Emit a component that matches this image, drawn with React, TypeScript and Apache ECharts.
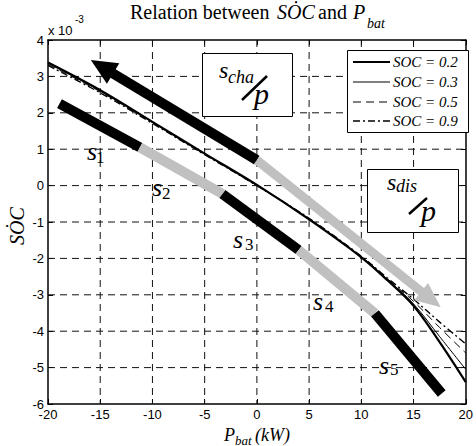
import React, { useEffect, useRef } from "react";
import * as echarts from "echarts";

// ---- data (SOC-dot in units of 1e-3, P_bat in kW) ----
const P = [-20, -15, -10, -5, 0, 5, 10, 12.5, 15, 17.5, 20];
const soc02 = [3.38, 2.62, 1.75, 0.88, 0.02, -0.93, -1.97, -2.6, -3.3, -4.3, -5.4];
const soc03 = [3.36, 2.6, 1.74, 0.87, 0.01, -0.92, -1.96, -2.58, -3.25, -4.15, -5.05];
const soc05 = [3.33, 2.58, 1.73, 0.86, 0.0, -0.91, -1.95, -2.56, -3.18, -3.9, -4.6];
const soc09 = [3.3, 2.55, 1.71, 0.85, 0.0, -0.9, -1.94, -2.54, -3.12, -3.75, -4.35];
const seriesNames = ["SOC = 0.2", "SOC = 0.3", "SOC = 0.5", "SOC = 0.9"];

// breakpoints of the thick s1..s5 band
const sBreaks = [
  [-18.9, 2.25],
  [-11.2, 1.05],
  [-3.3, -0.23],
  [4.0, -1.77],
  [11.3, -3.51],
  [17.7, -5.71],
];
// arrows: [x0, y0, x1(tip), y1(tip)]
const chargeArrow = [0, 0.7, -15.9, 3.45];
const dischargeArrow = [0, 0.7, 17.6, -3.34];

const xTicks = { min: -20, max: 20, interval: 5 };
const yTicks = { min: -6, max: 4, interval: 1 };
const xGrid = [-15, -10, -5, 0, 5, 10, 15];
const yGrid = [-5, -4, -3, -2, -1, 0, 1, 2, 3];

const GRAY = "#c0c0c0";
const SERIF = '"Liberation Serif", "Times New Roman", serif';
const SANS = '"Liberation Sans", Arial, sans-serif';

const lineStyles = [
  { width: 2.2, dash: null as number[] | null },
  { width: 1, dash: null as number[] | null },
  { width: 1, dash: [8, 5] },
  { width: 1.4, dash: [7, 3, 2, 3] },
];

function arrowRenderer(color: string, width: number, headLen: number, headHalf: number) {
  return (params: any, api: any) => {
    const a = api.coord([api.value(0), api.value(1)]);
    const b = api.coord([api.value(2), api.value(3)]);
    const dx = b[0] - a[0];
    const dy = b[1] - a[1];
    const L = Math.hypot(dx, dy);
    const ux = dx / L;
    const uy = dy / L;
    const nx = -uy;
    const ny = ux;
    const bx = b[0] - ux * headLen;
    const by = b[1] - uy * headLen;
    return {
      type: "group",
      children: [
        {
          type: "line",
          shape: { x1: a[0], y1: a[1], x2: bx + ux * 2, y2: by + uy * 2 },
          style: { stroke: color, lineWidth: width, lineCap: "butt" },
        },
        {
          type: "polygon",
          shape: {
            points: [
              [b[0], b[1]],
              [bx + nx * headHalf, by + ny * headHalf],
              [bx - nx * headHalf, by - ny * headHalf],
            ],
          },
          style: { fill: color },
        },
      ],
    };
  };
}

function txt(text: string, x: number, y: number, font: string, extra: any = {}) {
  return {
    type: "text",
    x,
    y,
    z: 100,
    silent: true,
    ...extra,
    style: {
      text,
      font,
      fill: "#000",
      textAlign: "left",
      textVerticalAlign: "middle",
      ...(extra.style || {}),
    },
  };
}

export default function App() {
  const ref = useRef<HTMLDivElement>(null);

  useEffect(() => {
    document.body.style.margin = "0";
    if (!ref.current) return;
    const chart = echarts.init(ref.current, undefined, { renderer: "svg" });

    const mk = (vals: number[]) => P.map((p, i) => [p, vals[i]]);
    const allVals = [soc02, soc03, soc05, soc09];

    const socSeries = allVals.map((vals, i) => ({
      type: "line",
      name: seriesNames[i],
      data: mk(vals),
      symbol: "none",
      smooth: 0.35,
      silent: true,
      z: 3,
      lineStyle: {
        color: "#000",
        width: lineStyles[i].width,
        type: lineStyles[i].dash ? lineStyles[i].dash : "solid",
      },
    }));

    const bandSeries = sBreaks.slice(0, -1).map((pt, i) => ({
      type: "line",
      data: [pt, sBreaks[i + 1]],
      symbol: "none",
      silent: true,
      z: 4,
      lineStyle: { color: i % 2 === 0 ? "#000" : GRAY, width: 10, cap: "butt" },
    }));

    const arrowSeries = [
      {
        type: "custom",
        data: [chargeArrow],
        encode: { x: [0, 2], y: [1, 3] },
        renderItem: arrowRenderer("#000", 10, 26, 12),
        clip: false,
        silent: true,
        z: 5,
      },
      {
        type: "custom",
        data: [dischargeArrow],
        encode: { x: [0, 2], y: [1, 3] },
        renderItem: arrowRenderer(GRAY, 9, 25, 11),
        clip: false,
        silent: true,
        z: 5,
      },
    ];

    const gridStyle = { stroke: "#111", lineWidth: 1, lineDash: [7, 5] };
    const gridSeries = [
      {
        type: "custom",
        data: xGrid.map((v) => [v, 0]),
        encode: { x: 0, y: 1 },
        silent: true,
        z: 1,
        renderItem: (params: any, api: any) => {
          const t = api.coord([api.value(0), yTicks.max]);
          const b = api.coord([api.value(0), yTicks.min]);
          return { type: "line", shape: { x1: t[0], y1: t[1], x2: b[0], y2: b[1] }, style: gridStyle };
        },
      },
      {
        type: "custom",
        data: yGrid.map((v) => [0, v]),
        encode: { x: 0, y: 1 },
        silent: true,
        z: 1,
        renderItem: (params: any, api: any) => {
          const l = api.coord([xTicks.min, api.value(1)]);
          const r = api.coord([xTicks.max, api.value(1)]);
          return { type: "line", shape: { x1: l[0], y1: l[1], x2: r[0], y2: r[1] }, style: gridStyle };
        },
      },
    ];

    const axisCommon = {
      axisLine: { show: true, onZero: false, lineStyle: { color: "#000", width: 1.5 } },
      axisTick: { show: true, inside: true, length: 5, lineStyle: { color: "#000", width: 1 } },
      splitLine: { show: false },
    };

    const labelFont = { fontFamily: SANS, fontSize: 13, color: "#000" };

    // manual legend (drawn from the series names and styles)
    const legendX = 347.5;
    const legendY = 50.5;
    const legendRows = [62, 82, 102, 121];
    const legendGraphics: any[] = [
      {
        type: "rect",
        z: 95,
        silent: true,
        shape: { x: legendX, y: legendY, width: 121, height: 82 },
        style: { fill: "#fff", stroke: "#000", lineWidth: 1 },
      },
    ];
    seriesNames.forEach((name, i) => {
      legendGraphics.push({
        type: "line",
        z: 100,
        silent: true,
        shape: { x1: 353, y1: legendRows[i], x2: 390, y2: legendRows[i] },
        style: {
          stroke: "#000",
          lineWidth: lineStyles[i].width,
          lineDash: lineStyles[i].dash || undefined,
        },
      });
      legendGraphics.push(txt(name, 393, legendRows[i], `italic 15px ${SERIF}`));
    });

    const option: any = {
      animation: false,
      backgroundColor: "#fff",
      grid: { left: 48, right: 8, top: 40, bottom: 42, containLabel: false },
      xAxis: [
        {
          type: "value",
          ...xTicks,
          position: "bottom",
          ...axisCommon,
          axisLabel: { ...labelFont, margin: 4 },
        },
        {
          type: "value",
          ...xTicks,
          position: "top",
          ...axisCommon,
          axisLabel: { show: false },
        },
      ],
      yAxis: [
        {
          type: "value",
          ...yTicks,
          position: "left",
          ...axisCommon,
          axisLabel: { ...labelFont, margin: 4, padding: [0, 0, 5, 0] },
        },
        {
          type: "value",
          ...yTicks,
          position: "right",
          ...axisCommon,
          axisLabel: { show: false },
        },
      ],
      series: [...gridSeries, ...socSeries, ...bandSeries, ...arrowSeries],
      graphic: [
        // title
        txt("Relation between", 130, 12, `20px ${SERIF}`),
        txt("S\u022EC", 277, 12, `italic 20px ${SERIF}`),
        txt("and", 318, 12, `20px ${SERIF}`),
        txt("P", 353, 12, `italic 20px ${SERIF}`),
        txt("bat", 367, 23, `italic 14px ${SERIF}`),
        // exponent
        txt("x 10", 48, 30, `13px ${SANS}`),
        txt("-3", 75, 19, `10px ${SANS}`),
        // y axis name
        {
          type: "text",
          x: 17,
          y: 226,
          rotation: Math.PI / 2,
          z: 100,
          silent: true,
          style: {
            text: "S\u022EC",
            font: `italic 20px ${SERIF}`,
            fill: "#000",
            textAlign: "center",
            textVerticalAlign: "middle",
          },
        },
        // x axis name
        txt("P", 224, 435, `italic 18px ${SERIF}`),
        txt("bat", 235, 440, `italic 13px ${SERIF}`),
        txt("(kW)", 255, 435, `italic 18px ${SERIF}`),
        // s labels
        txt("s", 87, 151, `italic 26px ${SERIF}`),
        txt("1", 96, 157, `17px ${SERIF}`),
        txt("s", 152, 187, `italic 26px ${SERIF}`),
        txt("2", 162, 193, `17px ${SERIF}`),
        txt("s", 233, 239, `italic 26px ${SERIF}`),
        txt("3", 245, 244, `17px ${SERIF}`),
        txt("s", 313, 301, `italic 26px ${SERIF}`),
        txt("4", 325, 306, `17px ${SERIF}`),
        txt("s", 379, 365, `italic 26px ${SERIF}`),
        txt("5", 390, 369, `17px ${SERIF}`),
        // charge box
        {
          type: "rect",
          z: 90,
          silent: true,
          shape: { x: 202.5, y: 53.5, width: 90, height: 63 },
          style: { fill: "#fff", stroke: "#000", lineWidth: 1 },
        },
        txt("s", 219, 70, `italic 24px ${SERIF}`),
        txt("cha", 228, 77, `italic 18px ${SERIF}`),
        {
          type: "line",
          z: 100,
          silent: true,
          shape: { x1: 242, y1: 100, x2: 267, y2: 76 },
          style: { stroke: "#000", lineWidth: 2.5 },
        },
        txt("p", 254, 93, `italic 30px ${SERIF}`),
        // discharge box
        {
          type: "rect",
          z: 90,
          silent: true,
          shape: { x: 367.5, y: 169.5, width: 91, height: 63 },
          style: { fill: "#fff", stroke: "#000", lineWidth: 1 },
        },
        txt("s", 387, 182, `italic 24px ${SERIF}`),
        txt("dis", 396, 186, `italic 18px ${SERIF}`),
        {
          type: "line",
          z: 100,
          silent: true,
          shape: { x1: 409, y1: 214, x2: 427, y2: 198 },
          style: { stroke: "#000", lineWidth: 2.5 },
        },
        txt("p", 421, 210, `italic 30px ${SERIF}`),
        ...legendGraphics,
      ],
    };

    chart.setOption(option);
    return () => chart.dispose();
  }, []);

  return (
    <div
      ref={ref}
      style={{ position: "fixed", left: 0, top: 0, width: 476, height: 446, background: "#fff" }}
    />
  );
}
